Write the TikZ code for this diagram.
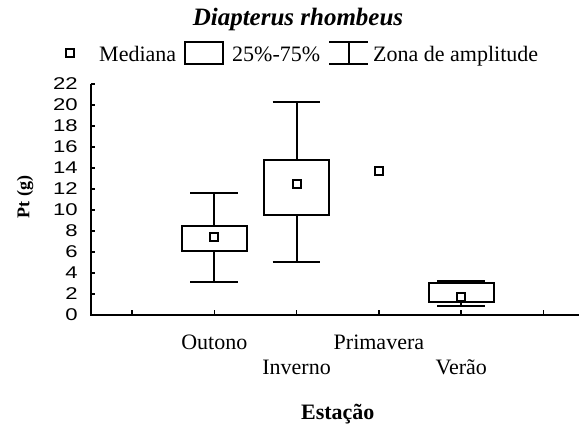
\documentclass[tikz,border=0pt]{standalone}
\usepackage{fontspec}
\setmainfont{Liberation Serif}
\setsansfont{Liberation Sans}
\usepackage{graphicx}
\usetikzlibrary{calc,positioning}

\begin{document}
\begin{tikzpicture}[x=1pt, y=1pt,
    mediana/.style={rectangle, draw, line width=2pt, fill=white, minimum size=8pt, inner sep=0pt},
    caixa/.style={draw, line width=2pt},
    rotulo/.style={font=\fontsize{22}{22}\selectfont, inner sep=0pt, anchor=base}]
    \useasboundingbox (0,0) rectangle (579,425);
    % Titulo
    \node[rotulo, font=\fontsize{25}{25}\selectfont\bfseries\itshape] (T) at (298,399) {Diapterus rhombeus};
    % Legenda
    \node[mediana] (L1) at (70,372) {};
    \node[rotulo, anchor=base west] (L1t) at (99,363) {Mediana};
    \draw[caixa] (185,361) rectangle (223,383);
    \node[rotulo, anchor=base west] (L2t) at (232,363) {25\%-75\%};
    \draw[caixa] (329,383) -- (368,383) (348.5,383) -- (348.5,361) (329,361) -- (368,361);
    \node[rotulo, anchor=base west] (L3t) at (373,363) {Zona de amplitude};
    % Eixo y
    \node[rotulo, anchor=center, font=\fontsize{18}{18}\selectfont\bfseries, rotate=90] (Ylab) at (25,228) {Pt (g)};
    \begin{scope}[shift={(49.7,110)}, x=82.3pt, y=10.5pt]
        % Eixos
        \draw[line width=2pt] (0.5,22) -- (0.5,0) -- (6.5,0);
        \foreach \v in {0,2,...,22} {
            \draw[line width=1.5pt] (0.5,\v) -- ++(4pt,0);
            \node[font=\fontsize{17}{17}\selectfont\sffamily, anchor=east, inner sep=0pt] (y\v) at ([xshift=-13pt]0.5,\v) {\scalebox{1.3}[1]{\v}};
        }
        \foreach \i in {1,...,6}
            \draw[line width=1.5pt] (\i,0) -- ++(0,5pt);
        % Caixas: posicao/min/q1/mediana/q3/max/nome
        \foreach \p/\mn/\qa/\md/\qb/\mx/\nm in {2/3.17/6.12/7.46/8.48/11.65/A, 3/5.08/9.52/12.48/14.8/20.3/B, 5/0.89/1.27/1.74/3.0/3.27/D} {
            \draw[caixa] (\p-0.395,\qa) rectangle (\p+0.395,\qb);
            \draw[caixa] (\p,\qb) -- (\p,\mx) (\p-0.29,\mx) -- (\p+0.29,\mx);
            \draw[caixa] (\p,\qa) -- (\p,\mn) (\p-0.29,\mn) -- (\p+0.29,\mn);
            \node[mediana] (M\nm) at (\p,\md) {};
        }
        \node[mediana] (MC) at (4,13.74) {};
        % Estacoes
        \node[rotulo] (Out) at (2,-3.24) {Outono};
        \node[rotulo] (Inv) at (3,-5.71) {Inverno};
        \node[rotulo] (Pri) at (4,-3.24) {Primavera};
        \node[rotulo] (Ver) at (5,-5.71) {Verão};
        \node[rotulo, font=\fontsize{22}{22}\selectfont\bfseries] (Xlab) at (3.5,-10) {Estação};
    \end{scope}
\end{tikzpicture}
\end{document}
